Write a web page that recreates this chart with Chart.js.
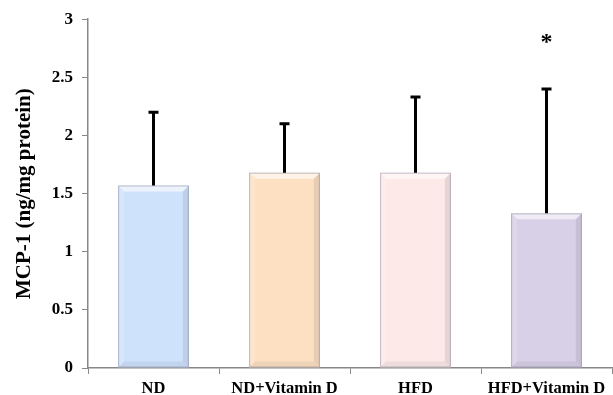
<!DOCTYPE html>
<html>
<head>
<meta charset="utf-8">
<script src="https://cdn.jsdelivr.net/npm/chart.js@4.4.0/dist/chart.umd.min.js"></script>
<style>
  body { margin: 0; background: #fff; }
  #wrap { width: 613px; height: 395px; }
</style>
</head>
<body>
<div id="wrap"><canvas id="myChart" width="613" height="395"></canvas></div>
<script>
const groups = ["ND", "ND+Vitamin D", "HFD", "HFD+Vitamin D"];
const meanValues = [1.57, 1.68, 1.68, 1.33];
const errorTops = [2.20, 2.10, 2.33, 2.40];
const marks = ["", "", "", "*"];
const barColors = ["#cfe2fb", "#fde0c1", "#fde9e7", "#d8d0e7"];

// soft bevel on the bars, drawn from the bar elements
const bevelPlugin = {
  id: "bevel",
  afterDatasetsDraw(chart) {
    const ctx = chart.ctx;
    chart.getDatasetMeta(0).data.forEach((bar) => {
      const l = bar.x - bar.width / 2, r = bar.x + bar.width / 2;
      const t = bar.y, b = bar.base;
      const e = 6;
      ctx.save();
      ctx.fillStyle = "rgba(255,255,255,0.6)";
      ctx.beginPath();
      ctx.moveTo(l, t); ctx.lineTo(r, t); ctx.lineTo(r - e, t + e); ctx.lineTo(l + e, t + e);
      ctx.closePath(); ctx.fill();
      ctx.fillStyle = "rgba(255,255,255,0.15)";
      ctx.beginPath();
      ctx.moveTo(l, t); ctx.lineTo(l + e, t + e); ctx.lineTo(l + e, b - e); ctx.lineTo(l, b);
      ctx.closePath(); ctx.fill();
      ctx.fillStyle = "rgba(70,70,90,0.12)";
      ctx.beginPath();
      ctx.moveTo(r, t); ctx.lineTo(r, b); ctx.lineTo(r - e, b - e); ctx.lineTo(r - e, t + e);
      ctx.closePath(); ctx.fill();
      ctx.fillStyle = "rgba(70,70,90,0.08)";
      ctx.beginPath();
      ctx.moveTo(l, b); ctx.lineTo(r, b); ctx.lineTo(r - e, b - e); ctx.lineTo(l + e, b - e);
      ctx.closePath(); ctx.fill();
      ctx.strokeStyle = "rgba(120,120,140,0.45)";
      ctx.lineWidth = 1;
      ctx.strokeRect(l + 0.5, t + 0.5, bar.width - 1, b - t - 1);
      ctx.restore();
    });
  }
};

// upper error bars and significance marks
const errorPlugin = {
  id: "errors",
  afterDatasetsDraw(chart) {
    const ctx = chart.ctx;
    const y = chart.scales.y;
    chart.getDatasetMeta(0).data.forEach((bar, i) => {
      const top = y.getPixelForValue(errorTops[i]);
      ctx.save();
      ctx.strokeStyle = "#000";
      ctx.lineWidth = 3;
      ctx.beginPath();
      ctx.moveTo(bar.x, bar.y);
      ctx.lineTo(bar.x, top);
      ctx.moveTo(bar.x - 5, top);
      ctx.lineTo(bar.x + 5, top);
      ctx.stroke();
      if (marks[i]) {
        ctx.fillStyle = "#000";
        ctx.font = "bold 24px 'Liberation Serif'";
        ctx.textAlign = "center";
        ctx.textBaseline = "middle";
        ctx.fillText(marks[i], bar.x, top - 46);
      }
      ctx.restore();
    });
  }
};

const ctx = document.getElementById("myChart").getContext("2d");
const myChart = new Chart(ctx, {
  type: "bar",
  data: {
    labels: groups,
    datasets: [{
      data: meanValues,
      backgroundColor: barColors,
      borderWidth: 0,
      barPercentage: 0.54,
      categoryPercentage: 1.0
    }]
  },
  options: {
    responsive: false,
    animation: false,
    layout: { padding: { top: 16, right: 1 } },
    plugins: { legend: { display: false }, tooltip: { enabled: false } },
    scales: {
      x: {
        grid: { display: true, offset: true, drawOnChartArea: false, tickLength: 6, color: "#888" },
        border: { color: "#888", width: 1.5 },
        ticks: { color: "#000", font: { family: "Liberation Serif", size: 16.5, weight: "bold" }, padding: 5 },
        afterFit(scale) { scale.height = 27; }
      },
      y: {
        min: 0, max: 3,
        grid: { display: true, drawOnChartArea: false, tickLength: 6, color: "#888" },
        border: { color: "#888", width: 1.5 },
        ticks: {
          stepSize: 0.5, color: "#000", padding: 9,
          font: { family: "Liberation Serif", size: 17, weight: "bold" },
          callback: (v) => String(v)
        },
        title: {
          display: true, text: "MCP-1 (ng/mg protein)", color: "#000", padding: { top: 12, bottom: 0 },
          font: { family: "Liberation Serif", size: 21, weight: "bold" }
        },
        afterFit(scale) { scale.width = 88; }
      }
    }
  },
  plugins: [bevelPlugin, errorPlugin]
});
</script>
</body>
</html>
